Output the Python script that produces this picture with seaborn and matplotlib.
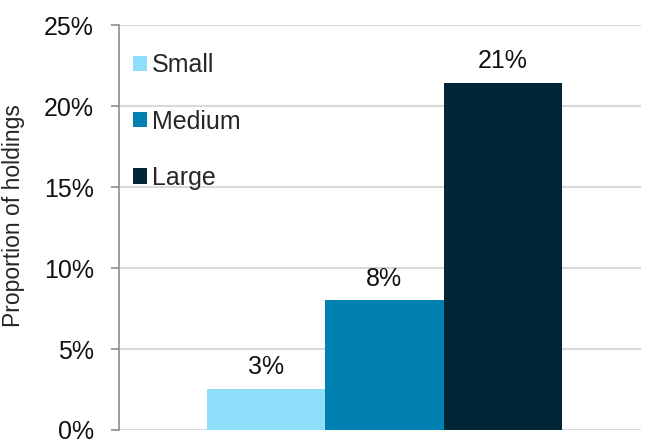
import pandas as pd
import matplotlib.pyplot as plt
import seaborn as sns
from matplotlib.ticker import PercentFormatter

# data
sizes = ["Small", "Medium", "Large"]
proportions = [2.55, 8.0, 21.45]
bar_colors = ["#8FDEFB", "#0081B1", "#022535"]

df = pd.DataFrame({"group": ["all"] * 3, "size": sizes, "proportion": proportions})

sns.set_style("white")
plt.rcParams["font.family"] = ["Liberation Sans", "DejaVu Sans"]
plt.rcParams["font.size"] = 18

fig = plt.figure(figsize=(6.45, 4.41), dpi=100)
ax = fig.add_axes([0.1845, 0.025, 0.81, 0.918])

sns.barplot(data=df, x="group", y="proportion", hue="size", hue_order=sizes,
            palette=bar_colors, width=0.68, gap=0, saturation=1,
            edgecolor="none", linewidth=0, ax=ax)

for cont in ax.containers:
    ax.bar_label(cont, fmt="%.0f%%", padding=7, fontsize=18, color="#111111")

ax.set_ylim(0, 25)
ax.set_yticks([0, 5, 10, 15, 20, 25])
ax.yaxis.set_major_formatter(PercentFormatter(decimals=0))
ax.set_xlim(-0.508, 0.492)
ax.set_xticks([])
ax.set_xlabel("")
ax.set_ylabel("Proportion of holdings", fontsize=16.5)
ax.yaxis.set_label_coords(-0.18, 0.53)

ax.grid(axis="y", color="#d9d9d9", linewidth=1.5)
ax.set_axisbelow(True)
for side in ["top", "right", "bottom"]:
    ax.spines[side].set_visible(False)
ax.spines["left"].set_color("#8c8c8c")
ax.spines["left"].set_linewidth(1.2)
ax.tick_params(axis="y", which="major", left=True, length=6, width=1.2,
               color="#8c8c8c", labelsize=18, pad=12, labelcolor="#111111")

leg = ax.legend(loc="upper left", bbox_to_anchor=(0.0085, 0.955), frameon=False,
                handlelength=0.56, handleheight=0.56, handletextpad=0.17,
                labelspacing=1.29, fontsize=18, borderaxespad=0)

fig.savefig("out.png", dpi=100)
